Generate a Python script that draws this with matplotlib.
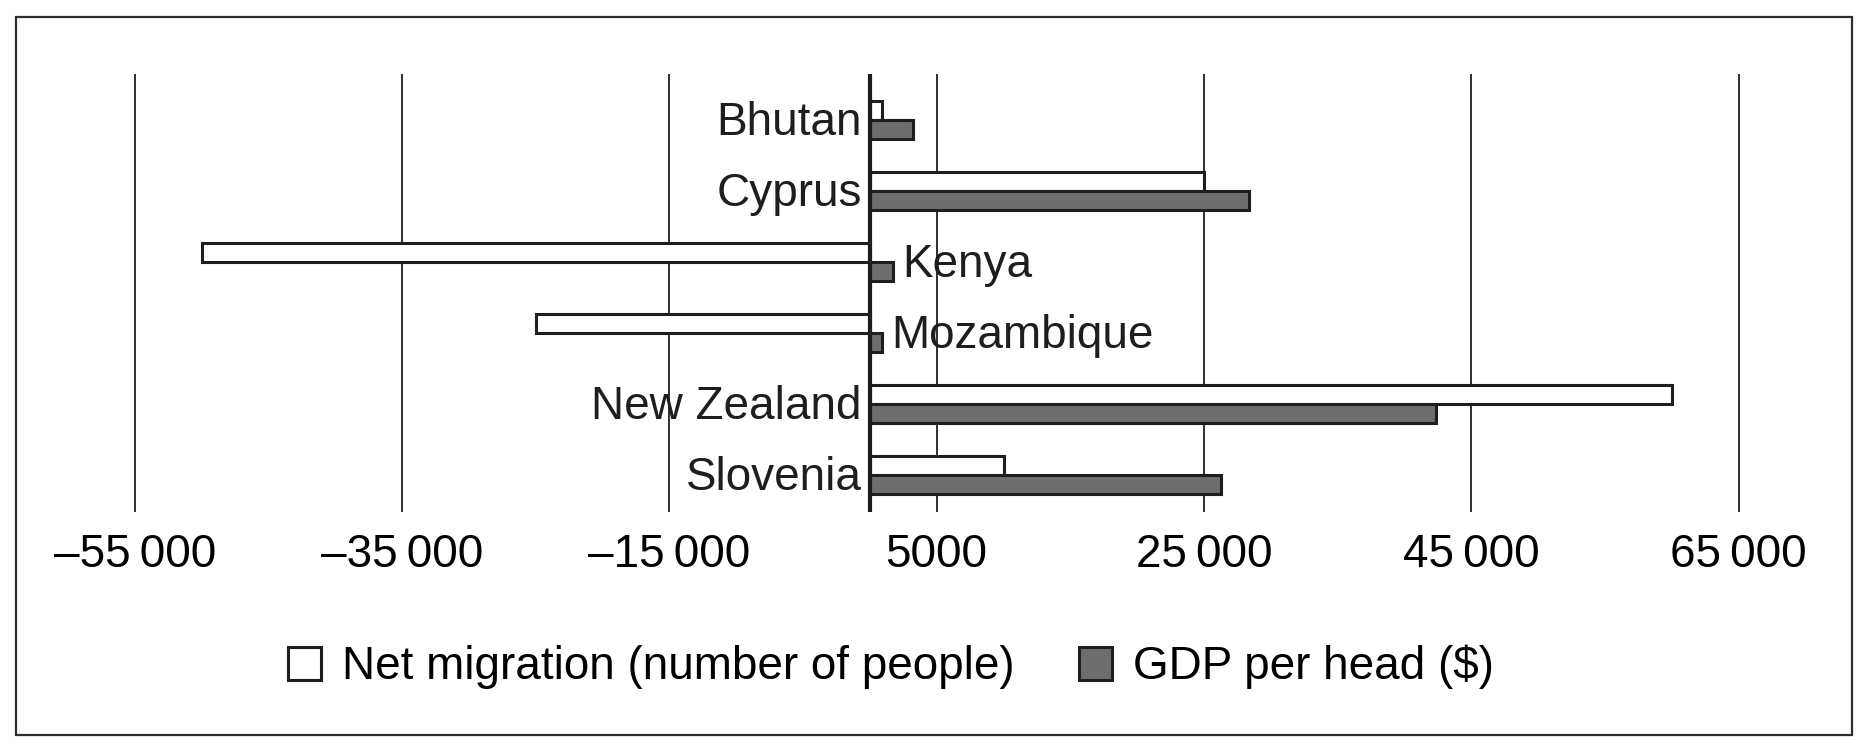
import numpy as np
import matplotlib
matplotlib.use('Agg')
import matplotlib.pyplot as plt
from matplotlib.ticker import FuncFormatter
from matplotlib.patches import Rectangle, Patch

# Data
countries = ['Bhutan', 'Cyprus', 'Kenya', 'Mozambique', 'New Zealand', 'Slovenia']
netMigration = [900, 25000, -50000, -25000, 60000, 10000]
gdpPerHead = [3200, 28400, 1700, 900, 42400, 26300]
xticks = [-55000, -35000, -15000, 5000, 25000, 45000, 65000]
seriesNames = ['Net migration (number of people)', 'GDP per head ($)']

# Style
fontFamily = ['Liberation Sans', 'DejaVu Sans']
fontSize = 33
netColor = 'white'
gdpColor = '#6e6e6e'
edgeColor = '#1e1e1e'
gridColor = '#2e2e2e'
barH = 0.27

plt.rcParams['font.family'] = fontFamily
plt.rcParams['font.size'] = fontSize

def tickFmt(x, pos):
    v = int(round(x))
    s = str(abs(v))
    if len(s) > 4:
        s = s[:-3] + '\u2009' + s[-3:]
    if v < 0:
        s = '\u2013' + s
    return s

W, H = 1868, 749
fig = plt.figure(figsize=(W/100, H/100), dpi=100)
ax = fig.add_axes([60/W, 1-512/H, (1800-60)/W, (512-74)/H])

y = np.arange(len(countries))
ax.barh(y - barH/2, netMigration, height=barH, color=netColor, edgecolor=edgeColor, linewidth=2.2, zorder=3)
ax.barh(y + barH/2, gdpPerHead, height=barH, color=gdpColor, edgecolor=edgeColor, linewidth=2.2, zorder=3)

ax.set_xlim(-60600, 69600)
ax.set_ylim(5.52, -0.648)
ax.set_yticks([])
ax.set_xticks(xticks)
ax.xaxis.set_major_formatter(FuncFormatter(tickFmt))
ax.tick_params(axis='x', length=0, pad=15, labelsize=fontSize)
ax.grid(axis='x', color=gridColor, linewidth=1.4, zorder=1)
ax.axvline(0, color=edgeColor, linewidth=3, zorder=4)
for s in ax.spines.values():
    s.set_visible(False)

# Country labels
for i, name in enumerate(countries):
    if netMigration[i] >= 0:
        ax.annotate(name, (0, i), xytext=(-6, -2), textcoords='offset points',
                    ha='right', va='center', fontsize=fontSize, color='#1e1e1e', zorder=5)
    else:
        ax.annotate(name, (gdpPerHead[i], i), xytext=(7, -2), textcoords='offset points',
                    ha='left', va='center', fontsize=fontSize, color='#1e1e1e', zorder=5)

# Legend
handles = [Patch(facecolor=netColor, edgecolor=edgeColor, linewidth=2.2),
           Patch(facecolor=gdpColor, edgecolor=edgeColor, linewidth=2.2)]
fig.legend(handles, seriesNames, loc='center', bbox_to_anchor=(891/W, 1-667/H), ncol=2,
           frameon=False, handlelength=0.72, handleheight=0.72, handletextpad=0.45,
           columnspacing=1.4, fontsize=fontSize)

# Border
fig.patches.append(Rectangle((15.5/W, 1-735/H), (1852-15.5)/W, (735-16.7)/H,
                             transform=fig.transFigure, fill=False, edgecolor='#2e2e2e', linewidth=1.6))

fig.savefig('out.png', dpi=100)
